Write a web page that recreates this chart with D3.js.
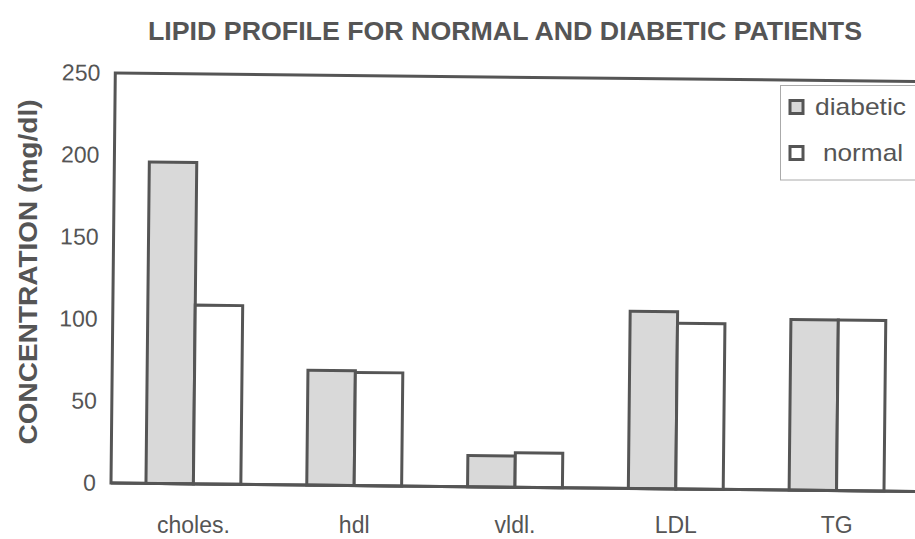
<!DOCTYPE html>
<html>
<head>
<meta charset="utf-8">
<script src="https://cdn.jsdelivr.net/npm/d3@7"></script>
<style>
  html, body { margin: 0; padding: 0; background: #fff; }
  svg { display: block; }
  text { font-family: "Liberation Sans", Arial, sans-serif; fill: #555; }
</style>
</head>
<body>
<svg id="chart" width="915" height="539"></svg>
<script>
const categories = ["choles.", "hdl", "vldl.", "LDL", "TG"];
const seriesNames = ["diabetic", "normal"];
const diabeticValues = [196, 70, 19, 108, 104];
const normalValues = [109, 69, 21, 101, 104];
const yTicks = [0, 50, 100, 150, 200, 250];
const chartTitle = "LIPID PROFILE FOR NORMAL AND DIABETIC PATIENTS";
const yTitle = "CONCENTRATION (mg/dl)";

const data = categories.map((c, i) => ({
  cat: c,
  values: [
    { key: "diabetic", value: diabeticValues[i] },
    { key: "normal", value: normalValues[i] }
  ]
}));

const svg = d3.select("#chart");
const stroke = "#555";
const fills = { diabetic: "#d9d9d9", normal: "#ffffff" };

const left = 111, baseY = 483, topY = 73, right = 935;

const x0 = d3.scaleBand().domain(categories).range([113, 917])
  .paddingInner(0.41).paddingOuter(0.205);
const x1 = d3.scaleBand().domain(seriesNames).range([0, x0.bandwidth()]);
const y = d3.scaleLinear().domain([0, 250]).range([baseY, topY]);

// slight scan tilt of the plot
const g = svg.append("g").attr("transform", `rotate(0.6, ${left}, ${baseY})`);

g.append("rect")
  .attr("x", left).attr("y", topY)
  .attr("width", right - left).attr("height", baseY - topY)
  .attr("fill", "none").attr("stroke", stroke).attr("stroke-width", 3);

const yAxis = d3.axisLeft(y).tickValues(yTicks).tickSize(0).tickPadding(15);
const ya = g.append("g").attr("transform", `translate(${left},0)`).call(yAxis);
ya.select(".domain").remove();
ya.selectAll("text")
  .style("font-family", '"Liberation Sans", Arial, sans-serif')
  .style("font-size", "23px").style("fill", "#555");

const groups = g.selectAll("g.cat").data(data).join("g")
  .attr("class", "cat")
  .attr("transform", d => `translate(${x0(d.cat)},0)`);
groups.selectAll("rect").data(d => d.values).join("rect")
  .attr("x", d => x1(d.key))
  .attr("y", d => y(d.value))
  .attr("width", x1.bandwidth())
  .attr("height", d => baseY - y(d.value))
  .attr("fill", d => fills[d.key])
  .attr("stroke", stroke).attr("stroke-width", 3);

g.append("line").attr("x1", left).attr("x2", right)
  .attr("y1", baseY).attr("y2", baseY)
  .attr("stroke", stroke).attr("stroke-width", 3);

// category labels (nearly level in the scan)
const xAxis = d3.axisBottom(x0).tickSize(0).tickPadding(34);
const xa = svg.append("g").attr("transform", `translate(0,${baseY})`).call(xAxis);
xa.select(".domain").remove();
xa.selectAll("text")
  .style("font-family", '"Liberation Sans", Arial, sans-serif')
  .style("font-size", "23px").style("fill", "#555");

svg.append("text")
  .attr("x", 505).attr("y", 40)
  .attr("text-anchor", "middle")
  .attr("font-size", 25).attr("font-weight", "bold")
  .attr("textLength", 714).attr("lengthAdjust", "spacingAndGlyphs")
  .text(chartTitle);

svg.append("text")
  .attr("transform", "translate(37,272) rotate(-90)")
  .attr("text-anchor", "middle")
  .attr("font-size", 26).attr("font-weight", "bold")
  .attr("textLength", 345).attr("lengthAdjust", "spacingAndGlyphs")
  .text(yTitle);

// legend
const lg = svg.append("g");
lg.append("rect").attr("x", 780.5).attr("y", 85.5).attr("width", 160).attr("height", 94.5)
  .attr("fill", "#fff").attr("stroke", "#aaa").attr("stroke-width", 1);
const items = lg.selectAll("g.item").data(seriesNames).join("g")
  .attr("class", "item")
  .attr("transform", (d, i) => `translate(0,${i * 46})`);
items.append("rect")
  .attr("x", 790).attr("y", 100.5).attr("width", 13).attr("height", 13)
  .attr("fill", d => fills[d]).attr("stroke", stroke).attr("stroke-width", 3);
items.append("text")
  .attr("x", (d, i) => i === 0 ? 815 : 823).attr("y", 115)
  .attr("font-size", 24)
  .attr("textLength", (d, i) => i === 0 ? 91 : 80)
  .attr("lengthAdjust", "spacingAndGlyphs")
  .text(d => d);
</script>
</body>
</html>
